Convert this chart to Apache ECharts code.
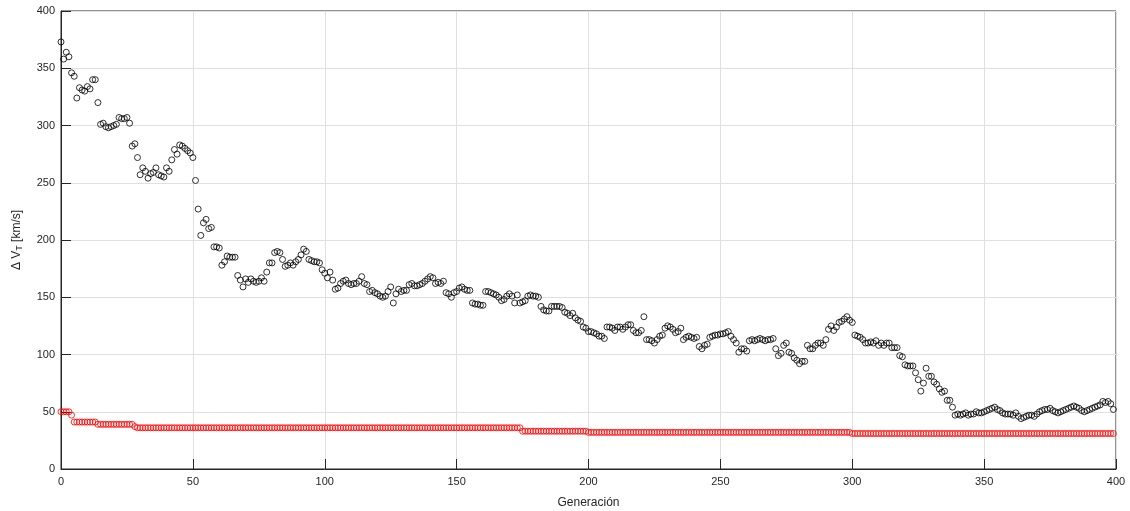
<!DOCTYPE html>
<html>
<head>
<meta charset="utf-8">
<script src="https://cdn.jsdelivr.net/npm/echarts@6/dist/echarts.min.js"></script>
<style>
  html, body { margin: 0; padding: 0; background: #fff; }
  #chart { width: 1130px; height: 511px; }
</style>
</head>
<body>
<div id="chart"></div>
<script>
// Generation index for each evaluated population
const generations = Array.from({ length: 400 }, (_, i) => i);

// Population mean ΔV_T per generation [km/s]
const meanDeltaV = [
  373, 358, 364, 360, 346, 343, 324, 333, 331, 330,
  334, 332, 340, 340, 320, 301, 302, 299, 298, 299,
  300, 301, 307, 306, 306, 307, 302, 282, 284, 272,
  257, 263, 260, 254, 258, 259, 263, 257, 256, 255,
  263, 260, 270, 279, 275, 283, 282, 280, 278, 276,
  272, 252, 227, 204, 215, 218, 210, 211, 194, 194,
  193, 178, 181, 186, 185, 185, 185, 169, 165, 159,
  166, 163, 166, 164, 163, 164, 167, 164, 172, 180,
  180, 189, 190, 189, 183, 177, 178, 180, 178, 181,
  183, 187, 192, 190, 183, 182, 181, 181, 180, 174,
  171, 167, 172, 165, 157, 158, 162, 164, 165, 162,
  161, 162, 162, 164, 168, 162, 161, 155, 156, 154,
  153, 151, 150, 151, 155, 159, 145, 153, 157, 155,
  156, 156, 161, 162, 160, 160, 161, 162, 164, 166,
  168, 167, 162, 163, 162, 164, 154, 153, 150, 154,
  155, 158, 159, 157, 156, 156, 145, 144, 144, 143,
  143, 155, 155, 154, 153, 152, 150, 147, 148, 151,
  153, 151, 145, 152, 145, 146, 147, 151, 152, 151,
  151, 150, 142, 139, 138, 138, 142, 142, 142, 142,
  141, 137, 136, 134, 136, 132, 130, 129, 124, 123,
  120, 120, 119, 118, 116, 116, 114, 124, 124, 123,
  121, 124, 124, 122, 124, 126, 126, 121, 119, 119,
  121, 133, 113, 113, 112, 110, 113, 116, 117, 123,
  125, 124, 122, 119, 120, 123, 113, 115, 116, 115,
  114, 115, 107, 105, 108, 109, 115, 116, 117, 117,
  118, 118, 119, 120, 116, 113, 110, 102, 105, 105,
  103, 112, 113, 112, 113, 114, 113, 112, 113, 113,
  114, 105, 99, 101, 108, 110, 102, 101, 97, 95,
  92, 94, 94, 108, 105, 105, 108, 110, 110, 108,
  113, 122, 125, 121, 124, 128, 129, 131, 133, 130,
  128, 117, 116, 115, 113, 110, 110, 111, 110, 112,
  108, 110, 108, 110, 110, 106, 106, 106, 99, 98,
  91, 90, 90, 90, 84, 78, 68, 75, 88, 81,
  81, 76, 74, 70, 67, 68, 60, 60, 54, 47,
  48, 47, 48, 49, 47, 48, 48, 50, 49, 49,
  50, 51, 52, 53, 54, 52, 51, 49, 48, 48,
  48, 47, 49, 46, 44, 45, 46, 47, 47, 46,
  48, 50, 51, 52, 52, 53, 51, 50, 49, 50,
  51, 52, 53, 54, 55, 54, 53, 51, 50, 51,
  52, 53, 54, 55, 56, 59, 58, 59, 57, 52
];

// Best individual ΔV_T per generation [km/s]
const bestDeltaV = [
  50, 50, 50, 50, 47, 41, 41, 41, 41, 41,
  41, 41, 41, 41, 39, 39, 39, 39, 39, 39,
  39, 39, 39, 39, 39, 39, 39, 39, 37, 36,
  36, 36, 36, 36, 36, 36, 36, 36, 36, 36,
  36, 36, 36, 36, 36, 36, 36, 36, 36, 36,
  36, 36, 36, 36, 36, 36, 36, 36, 36, 36,
  36, 36, 36, 36, 36, 36, 36, 36, 36, 36,
  36, 36, 36, 36, 36, 36, 36, 36, 36, 36,
  36, 36, 36, 36, 36, 36, 36, 36, 36, 36,
  36, 36, 36, 36, 36, 36, 36, 36, 36, 36,
  36, 36, 36, 36, 36, 36, 36, 36, 36, 36,
  36, 36, 36, 36, 36, 36, 36, 36, 36, 36,
  36, 36, 36, 36, 36, 36, 36, 36, 36, 36,
  36, 36, 36, 36, 36, 36, 36, 36, 36, 36,
  36, 36, 36, 36, 36, 36, 36, 36, 36, 36,
  36, 36, 36, 36, 36, 36, 36, 36, 36, 36,
  36, 36, 36, 36, 36, 36, 36, 36, 36, 36,
  36, 36, 36, 36, 36, 33, 33, 33, 33, 33,
  33, 33, 33, 33, 33, 33, 33, 33, 33, 33,
  33, 33, 33, 33, 33, 33, 33, 33, 33, 33,
  32, 32, 32, 32, 32, 32, 32, 32, 32, 32,
  32, 32, 32, 32, 32, 32, 32, 32, 32, 32,
  32, 32, 32, 32, 32, 32, 32, 32, 32, 32,
  32, 32, 32, 32, 32, 32, 32, 32, 32, 32,
  32, 32, 32, 32, 32, 32, 32, 32, 32, 32,
  32, 32, 32, 32, 32, 32, 32, 32, 32, 32,
  32, 32, 32, 32, 32, 32, 32, 32, 32, 32,
  32, 32, 32, 32, 32, 32, 32, 32, 32, 32,
  32, 32, 32, 32, 32, 32, 32, 32, 32, 32,
  32, 32, 32, 32, 32, 32, 32, 32, 32, 32,
  31, 31, 31, 31, 31, 31, 31, 31, 31, 31,
  31, 31, 31, 31, 31, 31, 31, 31, 31, 31,
  31, 31, 31, 31, 31, 31, 31, 31, 31, 31,
  31, 31, 31, 31, 31, 31, 31, 31, 31, 31,
  31, 31, 31, 31, 31, 31, 31, 31, 31, 31,
  31, 31, 31, 31, 31, 31, 31, 31, 31, 31,
  31, 31, 31, 31, 31, 31, 31, 31, 31, 31,
  31, 31, 31, 31, 31, 31, 31, 31, 31, 31,
  31, 31, 31, 31, 31, 31, 31, 31, 31, 31,
  31, 31, 31, 31, 31, 31, 31, 31, 31, 31
];

const xTicks = [0, 50, 100, 150, 200, 250, 300, 350, 400];
const yTicks = [0, 50, 100, 150, 200, 250, 300, 350, 400];

const axisColor = '#262626';
const gridColor = '#e0e0e0';
const fontFamily = '"Liberation Sans", Arial, Helvetica, sans-serif';

const chart = echarts.init(document.getElementById('chart'), null, { renderer: 'canvas' });

function axisCommon(ticks) {
  return {
    type: 'value',
    min: ticks[0],
    max: ticks[ticks.length - 1],
    interval: ticks[1] - ticks[0],
    axisLine: { show: true, lineStyle: { color: axisColor, width: 1 } },
    axisTick: { show: true, inside: true, length: 10, lineStyle: { color: axisColor, width: 1 } },
    splitLine: { show: true, lineStyle: { color: gridColor, width: 1 } },
    axisLabel: { color: axisColor, fontSize: 11, fontFamily: fontFamily },
    nameTextStyle: { color: axisColor, fontSize: 12, fontFamily: fontFamily }
  };
}

chart.setOption({
  animation: false,
  backgroundColor: '#ffffff',
  grid: {
    left: 61, right: 14, top: 11, bottom: 42,
    outerBoundsMode: 'none',
    containLabel: false,
    show: true, borderColor: axisColor, borderWidth: 1
  },
  xAxis: Object.assign(axisCommon(xTicks), {
    name: 'Generación',
    nameLocation: 'middle',
    nameGap: 28,
    axisLabel: { color: axisColor, fontSize: 11, fontFamily: fontFamily, margin: 7 }
  }),
  yAxis: Object.assign(axisCommon(yTicks), {
    name: 'Δ V{sub|T} [km/s]',
    nameLocation: 'middle',
    nameGap: 37,
    nameTextStyle: {
      color: axisColor, fontSize: 12, fontFamily: fontFamily,
      rich: { sub: { fontSize: 9, verticalAlign: 'bottom', padding: [6, 0, 0, 0], color: axisColor, fontFamily: fontFamily } }
    },
    axisLabel: { color: axisColor, fontSize: 11, fontFamily: fontFamily, margin: 6 }
  }),
  series: [
    {
      name: 'mean',
      type: 'scatter',
      data: generations.map((g, i) => [g, meanDeltaV[i]]),
      symbol: 'circle',
      symbolSize: 6,
      itemStyle: { color: 'rgba(0,0,0,0)', borderColor: '#000000', borderWidth: 1 },
      emphasis: { disabled: true },
      z: 3
    },
    {
      name: 'best',
      type: 'scatter',
      data: generations.map((g, i) => [g, bestDeltaV[i]]),
      symbol: 'circle',
      symbolSize: 6,
      itemStyle: { color: 'rgba(0,0,0,0)', borderColor: '#ff0000', borderWidth: 1 },
      emphasis: { disabled: true },
      z: 2
    }
  ]
});
</script>
</body>
</html>
